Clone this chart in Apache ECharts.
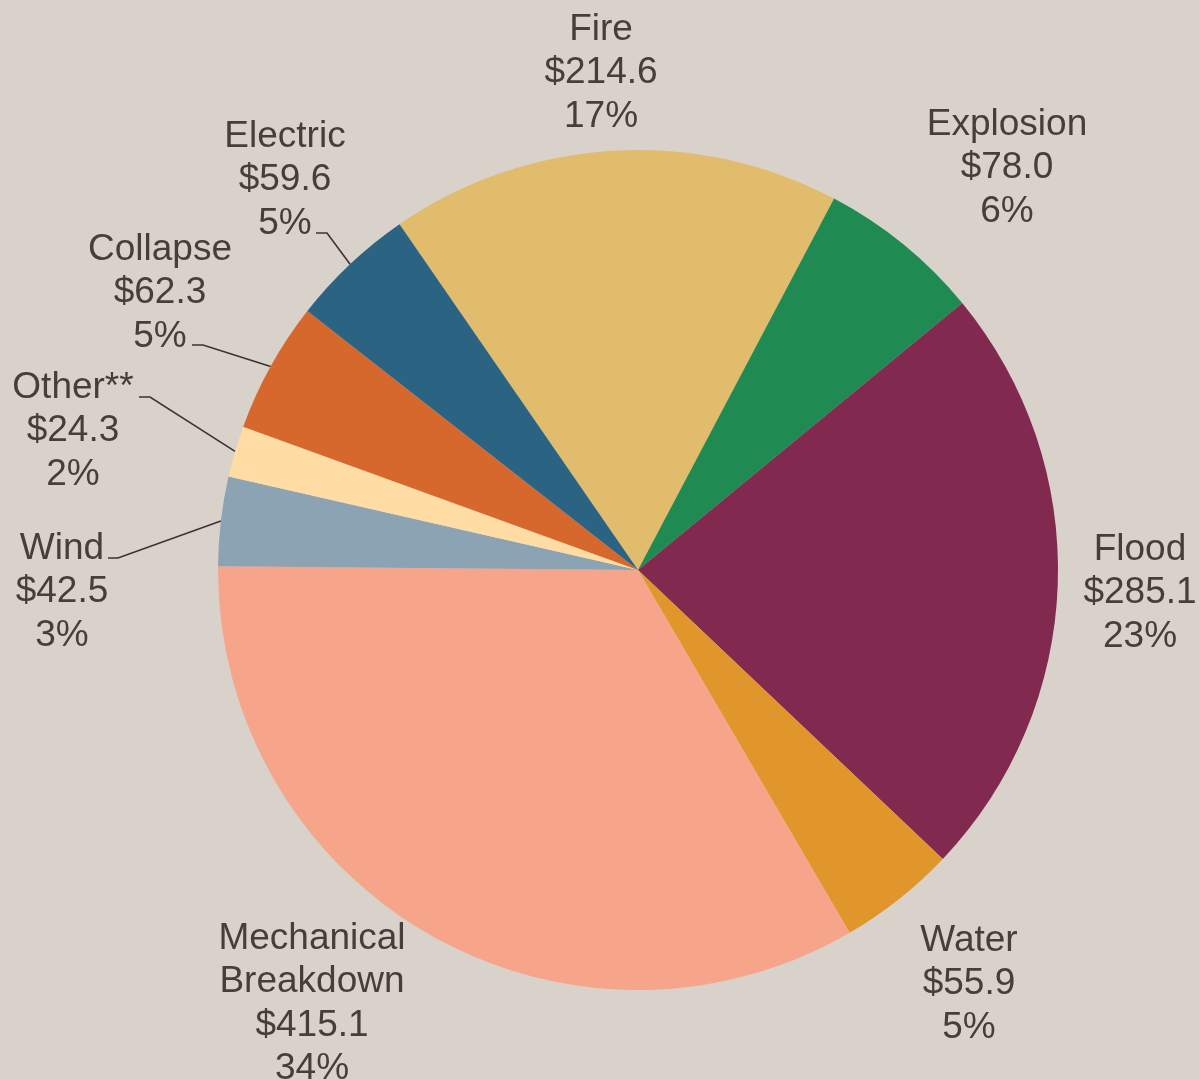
<!DOCTYPE html>
<html>
<head>
<meta charset="utf-8">
<script src="https://cdn.jsdelivr.net/npm/echarts@6/dist/echarts.min.js"></script>
<style>
  html, body { margin: 0; padding: 0; background: #D9D2CB; }
  #chart { width: 1199px; height: 1079px; }
</style>
</head>
<body>
<div id="chart"></div>
<script>
// ---- data ----
const categories = ['Fire', 'Explosion', 'Flood', 'Water', 'Mechanical\nBreakdown', 'Wind', 'Other**', 'Collapse', 'Electric'];
const values = [214.6, 78.0, 285.1, 55.9, 415.1, 42.5, 24.3, 62.3, 59.6];

// ---- styles / layout (not data) ----
const colors = ['#E1BC6C', '#1F8B53', '#82294F', '#E0962A', '#F6A58A', '#8BA3B3', '#FEDCA3', '#D6682E', '#2B6482'];
const labelCenters = [[601, 73], [1007, 168], [1140, 593], [969, 984], [312, 1004], [62, 592], [73, 431], [160, 293], [285, 180]];
// label line: [bend point, end point] for labels with a leader line
const leaderEnds = [null, null, null, null, null, [[118, 558], [108, 558]], [[150, 397], [139, 397]], [[203, 345], [192, 345]], [[327, 233], [316, 233]]];

const chart = echarts.init(document.getElementById('chart'), null, { renderer: 'canvas' });

const data = categories.map((c, i) => ({
  name: c,
  value: values[i],
  itemStyle: { color: colors[i] },
  labelLine: { show: leaderEnds[i] !== null }
}));

chart.setOption({
  backgroundColor: '#D9D2CB',
  animation: false,
  series: [{
    type: 'pie',
    center: [638, 570],
    radius: 420,
    startAngle: 124.6,
    clockwise: true,
    data: data,
    label: {
      show: true,
      position: 'outside',
      color: '#463E39',
      fontFamily: '"Liberation Sans", Arial, sans-serif',
      fontSize: 37,
      lineHeight: 43.5,
      align: 'center',
      overflow: 'none',
      formatter: function (p) {
        return p.name + '\n$' + p.value.toFixed(1) + '\n' + Math.round(p.percent) + '%';
      }
    },
    labelLine: {
      show: true,
      length: 30,
      length2: 10,
      lineStyle: { color: '#3A3330', width: 1.6 }
    },
    labelLayout: function (params) {
      const i = params.dataIndex;
      const res = {
        x: labelCenters[i][0],
        y: labelCenters[i][1],
        align: 'center',
        verticalAlign: 'middle'
      };
      if (leaderEnds[i] && params.labelLinePoints) {
        res.labelLinePoints = [params.labelLinePoints[0], leaderEnds[i][0], leaderEnds[i][1]];
      }
      return res;
    }
  }]
});
</script>
</body>
</html>
